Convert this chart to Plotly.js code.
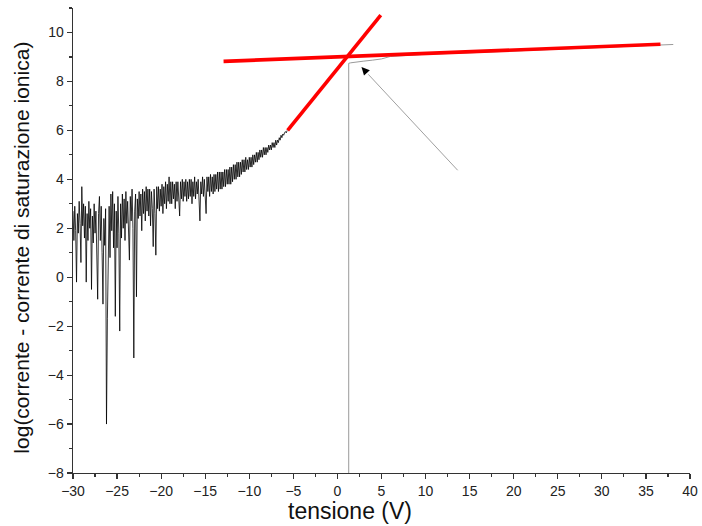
<!DOCTYPE html>
<html>
<head>
<meta charset="utf-8">
<script src="https://cdn.plot.ly/plotly-3.0.1.min.js"></script>
<style>html,body{margin:0;padding:0;background:#fff;}#chart{width:702px;height:526px;}</style>
</head>
<body>
<div id="chart"></div>
<script>
// Noisy measured curve (tensione V, log value)
const noiseV = [
-30.0,-29.9,-29.8,-29.7,-29.6,-29.5,-29.4,-29.3,-29.2,-29.1,
-29.0,-28.9,-28.8,-28.7,-28.6,-28.5,-28.4,-28.3,-28.2,-28.1,
-28.0,-27.9,-27.8,-27.7,-27.6,-27.5,-27.4,-27.3,-27.2,-27.1,
-27.0,-26.9,-26.8,-26.7,-26.6,-26.5,-26.4,-26.3,-26.2,-26.1,
-26.0,-25.9,-25.8,-25.7,-25.6,-25.5,-25.4,-25.3,-25.2,-25.1,
-25.0,-24.9,-24.8,-24.7,-24.6,-24.5,-24.4,-24.3,-24.2,-24.1,
-24.0,-23.9,-23.8,-23.7,-23.6,-23.5,-23.4,-23.3,-23.2,-23.1,
-23.0,-22.9,-22.8,-22.7,-22.6,-22.5,-22.4,-22.3,-22.2,-22.1,
-22.0,-21.9,-21.8,-21.7,-21.6,-21.5,-21.4,-21.3,-21.2,-21.1,
-21.0,-20.9,-20.8,-20.7,-20.6,-20.5,-20.4,-20.3,-20.2,-20.1,
-20.0,-19.9,-19.8,-19.7,-19.6,-19.5,-19.4,-19.3,-19.2,-19.1,
-19.0,-18.9,-18.8,-18.7,-18.6,-18.5,-18.4,-18.3,-18.2,-18.1,
-18.0,-17.9,-17.8,-17.7,-17.6,-17.5,-17.4,-17.3,-17.2,-17.1,
-17.0,-16.9,-16.8,-16.7,-16.6,-16.5,-16.4,-16.3,-16.2,-16.1,
-16.0,-15.9,-15.8,-15.7,-15.6,-15.5,-15.4,-15.3,-15.2,-15.1,
-15.0,-14.9,-14.8,-14.7,-14.6,-14.5,-14.4,-14.3,-14.2,-14.1,
-14.0,-13.9,-13.8,-13.7,-13.6,-13.5,-13.4,-13.3,-13.2,-13.1,
-13.0,-12.9,-12.8,-12.7,-12.6,-12.5,-12.4,-12.3,-12.2,-12.1,
-12.0,-11.9,-11.8,-11.7,-11.6,-11.5,-11.4,-11.3,-11.2,-11.1,
-11.0,-10.9,-10.8,-10.7,-10.6,-10.5,-10.4,-10.3,-10.2,-10.1,
-10.0,-9.9,-9.8,-9.7,-9.6,-9.5,-9.4,-9.3,-9.2,-9.1,
-9.0,-8.9,-8.8,-8.7,-8.6,-8.5,-8.4,-8.3,-8.2,-8.1,
-8.0,-7.9,-7.8,-7.7,-7.6,-7.5,-7.4,-7.3,-7.2,-7.1,
-7.0,-6.9,-6.8,-6.7,-6.6,-6.5,-6.4,-6.3,-6.2,-6.1,
-6.0,-5.9,-5.8,-5.7
];
const noiseLog = [
2.7,1.5,2.9,1.9,-0.2,2.6,1.8,3.1,2.2,0.6,
3.7,2.1,3.0,1.6,2.9,-0.2,2.6,1.5,3.1,2.0,
2.8,-0.5,2.5,1.4,3.0,1.8,2.7,1.2,-0.9,2.6,
3.3,1.5,2.9,1.0,-1.1,2.4,1.3,2.8,-6.0,-1.7,
1.3,2.9,0.8,3.4,1.9,3.5,1.2,3.0,-1.6,2.7,
1.2,3.3,1.8,-2.2,3.0,1.6,3.4,2.0,3.2,1.5,
3.5,2.2,3.1,1.7,0.7,3.3,2.3,3.6,2.0,-3.3,
2.7,3.4,-0.8,3.2,2.4,3.5,2.5,3.4,1.9,3.6,
2.6,3.5,2.3,3.7,2.7,3.6,2.5,3.6,2.1,3.5,
2.8,1.25,3.6,2.6,0.9,3.7,2.8,3.7,2.7,3.6,
2.9,3.8,2.6,3.7,3.0,3.9,2.8,3.8,3.1,4.1,
3.0,3.9,3.0,3.9,3.2,3.8,2.8,3.9,3.1,3.9,
3.1,2.5,3.9,3.2,4.0,3.1,3.9,3.3,4.0,3.1,
3.9,3.2,4.0,3.3,4.0,3.0,3.9,3.3,4.1,3.2,
3.9,3.4,4.0,3.3,2.3,3.9,3.4,4.1,3.3,4.0,
3.4,2.6,4.1,3.5,4.1,3.3,4.2,3.5,4.1,3.4,
4.2,3.5,4.2,3.6,4.3,3.5,4.3,3.6,4.3,3.6,
4.3,3.7,4.4,3.7,4.4,3.8,4.4,3.8,4.5,3.8,
4.5,3.9,4.6,4.0,4.6,4.0,4.7,4.1,4.7,4.1,
4.7,4.2,4.8,4.3,4.8,4.3,4.9,4.4,4.8,4.4,
4.9,4.5,4.9,4.5,5.0,4.6,5.0,4.7,5.1,4.7,
5.1,4.8,5.2,4.9,5.2,4.9,5.3,5.0,5.3,5.0,
5.3,5.1,5.4,5.2,5.4,5.2,5.5,5.3,5.5,5.3,
5.6,5.4,5.6,5.5,5.7,5.6,5.8,5.7,5.85,5.8,
5.9,5.95,5.9,6.0
];
// Knee / saturation part of the measured curve
const kneeV   = [1.28, 1.28, 1.5, 2, 3, 4, 5, 6, 8, 10, 15, 20, 25, 30, 35, 38.1];
const kneeLog = [-9.5, 8.74, 8.76, 8.79, 8.83, 8.87, 8.92, 9.02, 9.07, 9.11, 9.17, 9.24, 9.31, 9.38, 9.45, 9.51];
// Fitted straight lines (red)
const fitSteepV = [-5.65, 4.92];
const fitSteepLog = [6.0, 10.71];
const fitFlatV = [-12.92, 36.65];
const fitFlatLog = [8.82, 9.52];
// Arrow (tail -> head), data coordinates
const arrowTail = [13.64, 4.37];
const arrowHead = [2.73, 8.59];
const arrowNeck = [3.5, 8.29];

const xTickVals = [-30,-25,-20,-15,-10,-5,0,5,10,15,20,25,30,35,40];
const yTickVals = [-8,-6,-4,-2,0,2,4,6,8,10];

const traces = [
  {x: noiseV, y: noiseLog, type: 'scatter', mode: 'lines',
   line: {color: '#000000', width: 0.8}, hoverinfo: 'skip'},
  {x: kneeV, y: kneeLog, type: 'scatter', mode: 'lines',
   line: {color: '#9a9a9a', width: 1}, hoverinfo: 'skip'},
  {x: fitSteepV, y: fitSteepLog, type: 'scatter', mode: 'lines',
   line: {color: '#ff0000', width: 3.6}},
  {x: fitFlatV, y: fitFlatLog, type: 'scatter', mode: 'lines',
   line: {color: '#ff0000', width: 3.6}}
];

const fontFam = '"Liberation Sans", Arial, sans-serif';
const layout = {
  width: 702, height: 526,
  margin: {l: 73, r: 12, t: 8, b: 53},
  paper_bgcolor: '#ffffff', plot_bgcolor: '#ffffff',
  showlegend: false,
  font: {family: fontFam, size: 14, color: '#222'},
  xaxis: {
    range: [-30, 40], tickvals: xTickVals, ticks: 'outside', ticklen: 5, tickwidth: 1.2, tickcolor: '#333',
    minor: {dtick: 2.5, ticks: 'outside', ticklen: 3, tickwidth: 1.2, tickcolor: '#333', showgrid: false},
    showline: true, linecolor: '#333', linewidth: 1.4, showgrid: false, zeroline: false,
    tickfont: {family: fontFam, size: 14, color: '#222'}
  },
  yaxis: {
    range: [-8, 11], tickvals: yTickVals, ticks: 'outside', ticklen: 5, tickwidth: 1.2, tickcolor: '#333',
    minor: {dtick: 1, ticks: 'outside', ticklen: 3, tickwidth: 1.2, tickcolor: '#333', showgrid: false},
    showline: true, linecolor: '#333', linewidth: 1.4, showgrid: false, zeroline: false,
    tickfont: {family: fontFam, size: 14, color: '#222'}
  },
  shapes: [
    {type: 'line', xref: 'x', yref: 'y', x0: arrowTail[0], y0: arrowTail[1], x1: arrowNeck[0], y1: arrowNeck[1],
     line: {color: '#a0a0a0', width: 1}}
  ],
  annotations: [
    {xref: 'x', yref: 'y', axref: 'x', ayref: 'y', x: arrowHead[0], y: arrowHead[1], ax: arrowNeck[0], ay: arrowNeck[1],
     text: '', showarrow: true, arrowhead: 2, arrowsize: 1.6, arrowwidth: 1, arrowcolor: '#000'},
    {xref: 'paper', yref: 'paper', x: 0.449, y: -0.05, xanchor: 'center', yanchor: 'top',
     text: 'tensione (V)', showarrow: false, font: {family: fontFam, size: 23, color: '#111'}},
    {xref: 'paper', yref: 'paper', x: -0.084, y: 0.485, xanchor: 'center', yanchor: 'middle', textangle: -90,
     text: 'log(corrente - corrente di saturazione ionica)', showarrow: false, font: {family: fontFam, size: 21, color: '#111'}}
  ]
};

Plotly.newPlot('chart', traces, layout, {displayModeBar: false, staticPlot: true});
</script>
</body>
</html>
